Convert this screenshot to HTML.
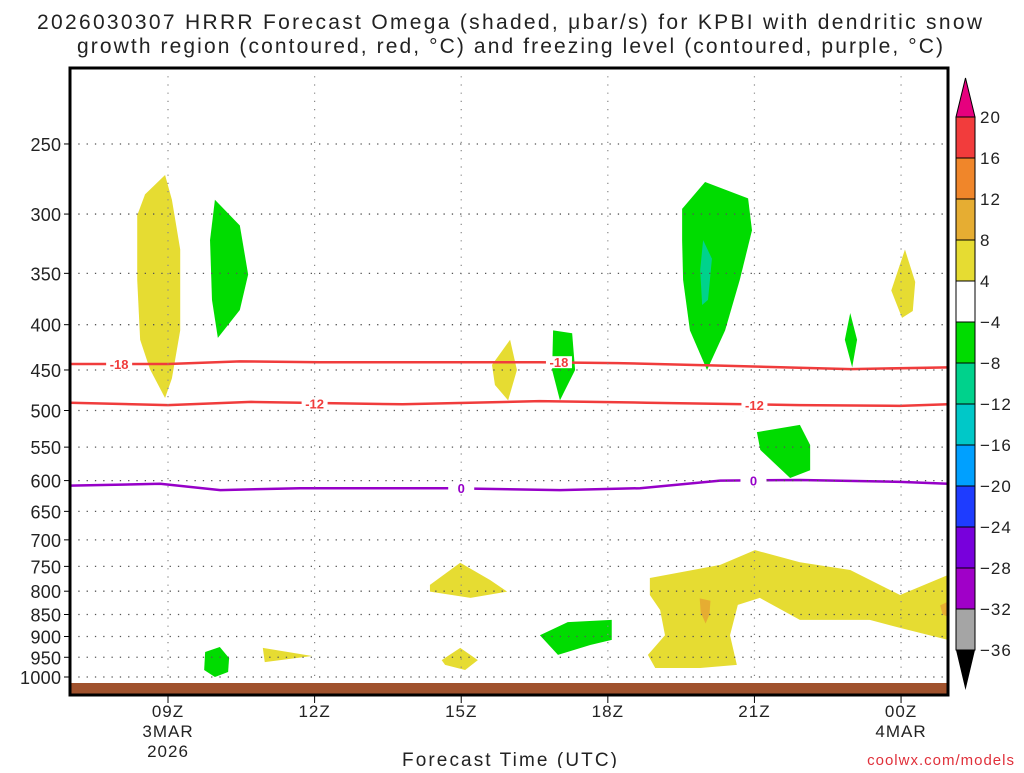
<!DOCTYPE html>
<html><head><meta charset="utf-8"><style>
body{margin:0;background:#fff;width:1024px;height:768px;overflow:hidden}
svg text{font-family:"Liberation Sans",sans-serif;fill:#222}
</style></head><body>
<svg id="chart" width="1024" height="768">
<text x="37" y="29" font-size="21" textLength="945" lengthAdjust="spacing">2026030307 HRRR Forecast Omega (shaded, μbar/s) for KPBI with dendritic snow</text>
<text x="77" y="53" font-size="21" textLength="866" lengthAdjust="spacing">growth region (contoured, red, °C) and freezing level (contoured, purple, °C)</text>
<g id="plot"></g>
<text x="402" y="766" font-size="19" textLength="215" lengthAdjust="spacing">Forecast Time (UTC)</text>
<text x="1015" y="765" text-anchor="end" font-size="15" style="fill:#e0303a;letter-spacing:1px">coolwx.com/models</text>
</svg>
<script>
const pressureLevels=[250,300,350,400,450,500,550,600,650,700,750,800,850,900,950,1000];
const timeTicks=[9,12,15,18,21,24];
const timeLabels=[["09Z","3MAR","2026"],["12Z"],["15Z"],["18Z"],["21Z"],["00Z","4MAR"]];
const cbLabels=["20","16","12","8","4","−4","−8","−12","−16","−20","−24","−28","−32","−36"];
const cbColors=["#f23c3c","#f0862a","#e6ad32","#e6dc32","#ffffff","#00dc00","#00d28c","#00c8c8","#00a0ff","#1e3cff","#7800dc","#a000c8","#a5a5a5"];
const yellow1=[[8.37,301],[8.53,285],[8.94,271],[9.08,289],[9.25,329],[9.25,406],[9.08,460],[8.94,484],[8.63,449],[8.43,416],[8.37,356]];
const green1=[[9.96,289],[10.47,309],[10.64,351],[10.47,385],[10.02,414],[9.9,375],[9.86,321]];
const green2=[[9.76,937],[10.06,925],[10.25,952],[10.23,987],[9.96,1000],[9.74,982]];
const yellow2=[[10.94,927],[10.98,962],[11.95,947]];
const yellow3=[[15.63,444],[16.0,416],[16.14,450],[15.96,487],[15.69,468]];
const green3=[[16.88,406],[17.27,409],[17.33,450],[17.02,487],[16.86,450]];
const yellow4=[[14.36,787],[14.98,743],[15.59,777],[15.94,801],[15.19,814],[14.36,801]];
const yellow5=[[14.6,957],[14.98,927],[15.34,957],[15.08,982],[14.67,969]];
const green4=[[16.61,897],[17.18,867],[18.08,862],[18.08,908],[17.64,920],[16.98,944]];
const green5=[[19.52,296],[19.99,276],[20.87,288],[20.95,313],[20.7,356],[20.4,406],[20.03,450],[19.68,406],[19.54,356],[19.52,321]];
const teal1=[[19.95,321],[20.13,337],[20.05,375],[19.93,380],[19.89,347]];
const green6=[[22.96,388],[23.1,416],[23.0,447],[22.85,416]];
const yellow6=[[24.08,329],[24.29,358],[24.24,386],[24.02,393],[23.8,366]];
const green7=[[21.05,529],[21.93,519],[22.14,547],[22.14,584],[21.73,596],[21.12,554]];
const yellow7=[[18.86,773],[20.3,747],[21.01,719],[21.93,742],[22.96,757],[23.98,808],[24.96,767],[24.96,908],[23.98,880],[23.36,862],[21.93,862],[21.11,814],[20.66,829],[20.5,897],[20.64,969],[19.89,977],[18.97,977],[18.82,944],[19.17,897],[19.07,840],[18.86,808]];
const orange1=[[19.88,815],[20.1,820],[20.08,850],[20.0,870],[19.9,845]];
const orange2=[[24.8,830],[24.96,822],[24.96,855],[24.85,850]];
const contourHours=[7,9,10.47,12.1,14.96,16.6,18.2,20.3,22.96,24.96];
const m18P=[443,443,440,441,441,441,442,445,449,447];
const m12Hours=[7,9,10.7,13.8,16.6,18.8,21.93,23.98,24.96];
const m12P=[490,493,489,492,488,490,493,494,492];
const zeroHours=[7,8.84,10.07,11.7,14.77,17.02,18.66,20.3,21.93,23.98,24.96];
const zeroP=[608,605,615,612,612,615,612,600,599,602,605];
const labels=[["-18",8.0,443,"#f03c3c"],["-18",17.0,441,"#f03c3c"],["-12",12.0,491,"#f03c3c"],["-12",21.0,493,"#f03c3c"],["0",15.0,612,"#9600c8"],["0",20.98,600,"#9600c8"]];

const L=70,R=948,T=68,B=695;
const xs=h=>168+(h-9)*48.87;
const ys=p=>677-384.5*Math.log(1000/p);
const NS="http://www.w3.org/2000/svg";
const g=document.getElementById('plot');
function mk(tag,attrs,parent){const e=document.createElementNS(NS,tag);for(const k in attrs)e.setAttribute(k,attrs[k]);(parent||g).appendChild(e);return e;}
const clip=mk('clipPath',{id:'pc'});mk('rect',{x:L,y:T,width:R-L,height:B-T},clip);
const shapes=mk('g',{'clip-path':'url(#pc)'});
function poly(pts,col,name){const e=mk('polygon',{points:pts.map(q=>xs(q[0])+','+ys(q[1])).join(' '),fill:col},shapes);

}
const Y='#e6dc32',G='#00dc00';
poly(yellow1,Y,'omega-yellow-1');poly(green1,G,'omega-green-1');poly(green2,G,'omega-green-2');poly(yellow2,Y,'omega-yellow-2');
poly(yellow3,Y,'omega-yellow-3');poly(green3,G,'omega-green-3');poly(yellow4,Y,'omega-yellow-4');poly(yellow5,Y,'omega-yellow-5');
poly(green4,G,'omega-green-4');poly(green5,G,'omega-green-5');poly(teal1,'#00d28c','omega-teal-1');poly(green6,G,'omega-green-6');
poly(yellow6,Y,'omega-yellow-6');poly(green7,G,'omega-green-7');poly(yellow7,Y,'omega-yellow-7');poly(orange1,'#e6ad32','omega-orange-1');poly(orange2,'#e6ad32','omega-orange-2');
pressureLevels.forEach(p=>{const l=mk('line',{x1:L,x2:R,y1:ys(p),y2:ys(p),stroke:'#555','stroke-width':1.3,'stroke-dasharray':'1.3 7'});


const s=String(p);
const t=mk('text',{x:62-s.length*10.5,y:ys(p)+7,'font-size':18,textLength:s.length*10.5-1,lengthAdjust:'spacing'});t.textContent=s;


mk('line',{x1:64,x2:70,y1:ys(p),y2:ys(p),stroke:'#000'});});
timeTicks.forEach((h,i)=>{const l=mk('line',{x1:xs(h),x2:xs(h),y1:T,y2:B,stroke:'#888','stroke-width':1.2,'stroke-dasharray':'1.2 7'});


mk('line',{x1:xs(h),x2:xs(h),y1:B,y2:B+8,stroke:'#000'});
timeLabels[i].forEach((s,j)=>{const t=mk('text',{x:xs(h),y:717+j*20,'text-anchor':'middle','font-size':17,style:'letter-spacing:1px'});t.textContent=s;

});});
const gr=mk('rect',{x:L,y:683,width:R-L,height:B-683,fill:'#a0522d'});


function line(hs,ps,col,name){const e=mk('polyline',{points:hs.map((h,i)=>xs(h)+','+ys(ps[i])).join(' '),fill:'none',stroke:col,'stroke-width':2.5},shapes);

}
line(contourHours,m18P,'#f03c3c','contour-minus18');
line(m12Hours,m12P,'#f03c3c','contour-minus12');
line(zeroHours,zeroP,'#9600c8','contour-freezing-level');
labels.forEach(a=>{mk('rect',{x:xs(a[1])-13,y:ys(a[2])-6,width:26,height:12,fill:'#fff'});
const t=mk('text',{x:xs(a[1]),y:ys(a[2])+5,'text-anchor':'middle','font-size':13,'font-weight':'bold',style:'fill:'+a[3]});t.textContent=a[0];

});
const fr=mk('rect',{x:L,y:T,width:R-L,height:B-T,fill:'none',stroke:'#000','stroke-width':3});


const cx=956,cw=19,c0=117,ch=41;
const cb=mk('g',{});
mk('polygon',{points:`${cx},${c0} ${cx+cw},${c0} ${cx+cw/2},78`,fill:'#e6007e',stroke:'#000'},cb);
cbColors.forEach((c,i)=>mk('rect',{x:cx,y:c0+i*ch,width:cw,height:ch,fill:c,stroke:'#000'},cb));
mk('polygon',{points:`${cx},${c0+13*ch} ${cx+cw},${c0+13*ch} ${cx+cw/2},690`,fill:'#000'},cb);
cbLabels.forEach((s,i)=>{const t=mk('text',{x:980,y:c0+i*ch+6,'font-size':17,style:'letter-spacing:1px'},cb);t.textContent=s;

});
</script>
</body></html>
